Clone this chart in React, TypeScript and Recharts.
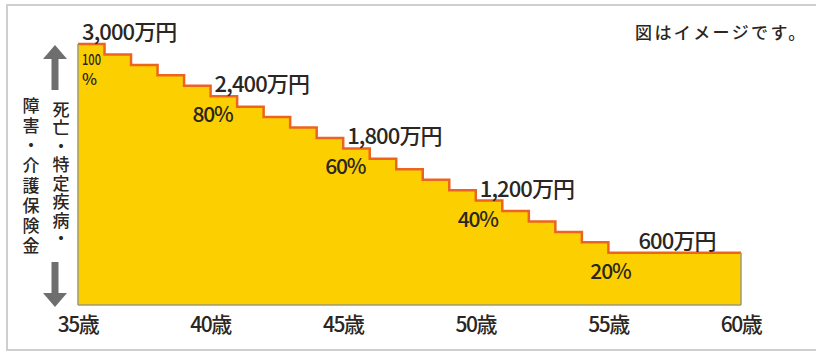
import React from "react";
import {
  ComposedChart,
  Area,
  XAxis,
  YAxis,
  ReferenceLine,
  LabelList,
} from "recharts";

// 保険金額（万円）：35歳から毎年120万円ずつ減少し、55歳以降は600万円で一定
const ages = [
  35, 36, 37, 38, 39, 40, 41, 42, 43, 44, 45, 46, 47, 48, 49, 50, 51, 52, 53,
  54, 55, 56, 57, 58, 59, 60,
];
const amounts = [
  3000, 2880, 2760, 2640, 2520, 2400, 2280, 2160, 2040, 1920, 1800, 1680, 1560,
  1440, 1320, 1200, 1080, 960, 840, 720, 600, 600, 600, 600, 600, 600,
];
const fullAmount = 3000;
const labelAges = [35, 40, 45, 50, 55];
const xTicks = [35, 40, 45, 50, 55, 60];

const titleOuter = "障害・介護保険金";
const titleInner = "死亡・特定疾病・";
const note = "図はイメージです。";

const data = ages.map((age, i) => ({ age, amount: amounts[i] }));

const FONT = '"Noto Sans CJK JP", "Noto Sans", sans-serif';
const TEXT = "#2b2622";
const YELLOW = "#FCD000";
const ORANGE = "#EC6420";
const EDGE = "#a09a70";

const AgeTick = (props: any) => {
  const { x, y, payload } = props;
  return (
    <text
      x={x}
      y={y + 18}
      textAnchor="middle"
      dominantBaseline="central"
      fontFamily={FONT}
      fontSize={21}
      fontWeight={500}
      letterSpacing={-1.5}
      fill={TEXT}
    >
      {payload.value}歳
    </text>
  );
};

const StepLabel = (props: any) => {
  const { x, y, index } = props;
  const row = data[index];
  if (!row || !labelAges.includes(row.age)) return null;
  const pct = Math.round((row.amount / fullAmount) * 100);
  const amountText = `${row.amount.toLocaleString("en-US")}万円`;
  const last = row.age === labelAges[labelAges.length - 1];
  return (
    <g fontFamily={FONT} fontWeight={500} fill={TEXT}>
      <text
        x={x + (last ? 30 : 4)}
        y={y - 14}
        dominantBaseline="central"
        fontSize={22}
        letterSpacing={-0.9}
      >
        {amountText}
      </text>
      {pct === 100 ? (
        // 最初の段は幅が狭いので2行に分けて詰める
        <text x={x + 4} y={y + 14} dominantBaseline="central" fontSize={15}>
          <tspan x={x + 4} textLength={19} lengthAdjust="spacingAndGlyphs">
            {pct}
          </tspan>
          <tspan x={x + 4} dy={20} fontSize={16}>
            %
          </tspan>
        </text>
      ) : (
        <text
          x={x + 2}
          y={y + 17}
          textAnchor="middle"
          dominantBaseline="central"
          fontSize={21}
          letterSpacing={-1.2}
        >
          {pct}%
        </text>
      )}
    </g>
  );
};

// 縦書きの見出し
const VerticalText = ({
  text,
  x,
  y,
  spacing,
}: {
  text: string;
  x: number;
  y: number;
  spacing: number;
}) => (
  <text
    x={x}
    y={y}
    fontFamily={FONT}
    fontSize={17}
    fontWeight={500}
    letterSpacing={spacing}
    fill={TEXT}
    style={{ writingMode: "vertical-rl" }}
  >
    {text}
  </text>
);

export default function App() {
  return (
    <div
      style={{
        position: "absolute",
        left: 0,
        top: 0,
        width: 816,
        height: 353,
        background: "#fff",
      }}
    >
      <svg
        width={816}
        height={353}
        style={{ position: "absolute", left: 0, top: 0 }}
      >
        <path
          d="M816,5 H7 V350 H816"
          fill="none"
          stroke="#cfcfcf"
          strokeWidth={2}
        />
        <text
          x={635}
          y={31}
          dominantBaseline="central"
          fontFamily={FONT}
          fontSize={17}
          fontWeight={500}
          letterSpacing={2.4}
          fill={TEXT}
        >
          {note}
        </text>
        {/* 上向き矢印 */}
        <polygon points="55,45 67,59 43,59" fill="#6e6e6e" />
        <rect x={51.5} y={58} width={7} height={32} fill="#6e6e6e" />
        {/* 下向き矢印 */}
        <rect x={51.5} y={262} width={7} height={32} fill="#6e6e6e" />
        <polygon points="55,307 67,293 43,293" fill="#6e6e6e" />
        <VerticalText text={titleOuter} x={31} y={97} spacing={3} />
        <VerticalText text={titleInner} x={61} y={101} spacing={1.5} />
      </svg>
      <div style={{ position: "absolute", left: 0, top: 0 }}>
        <ComposedChart
          width={816}
          height={353}
          data={data}
          margin={{ top: 44, right: 75, bottom: 18, left: 78 }}
        >
          <XAxis
            dataKey="age"
            type="number"
            domain={[35, 60]}
            ticks={xTicks}
            height={30}
            tickLine={false}
            tickSize={0}
            tickMargin={0}
            axisLine={{ stroke: EDGE, strokeWidth: 1.5 }}
            tick={<AgeTick />}
            interval={0}
          />
          <YAxis hide domain={[0, fullAmount]} />
          <Area
            type="stepAfter"
            dataKey="amount"
            fill={YELLOW}
            fillOpacity={1}
            stroke={ORANGE}
            strokeWidth={2.5}
            isAnimationActive={false}
          >
            <LabelList dataKey="amount" content={<StepLabel />} />
          </Area>
          <ReferenceLine
            segment={[
              { x: ages[0], y: 0 },
              { x: ages[0], y: amounts[0] },
            ]}
            stroke={EDGE}
            strokeWidth={1.5}
          />
          <ReferenceLine
            segment={[
              { x: ages[ages.length - 1], y: 0 },
              { x: ages[ages.length - 1], y: amounts[amounts.length - 1] },
            ]}
            stroke={EDGE}
            strokeWidth={1.5}
          />
        </ComposedChart>
      </div>
    </div>
  );
}
